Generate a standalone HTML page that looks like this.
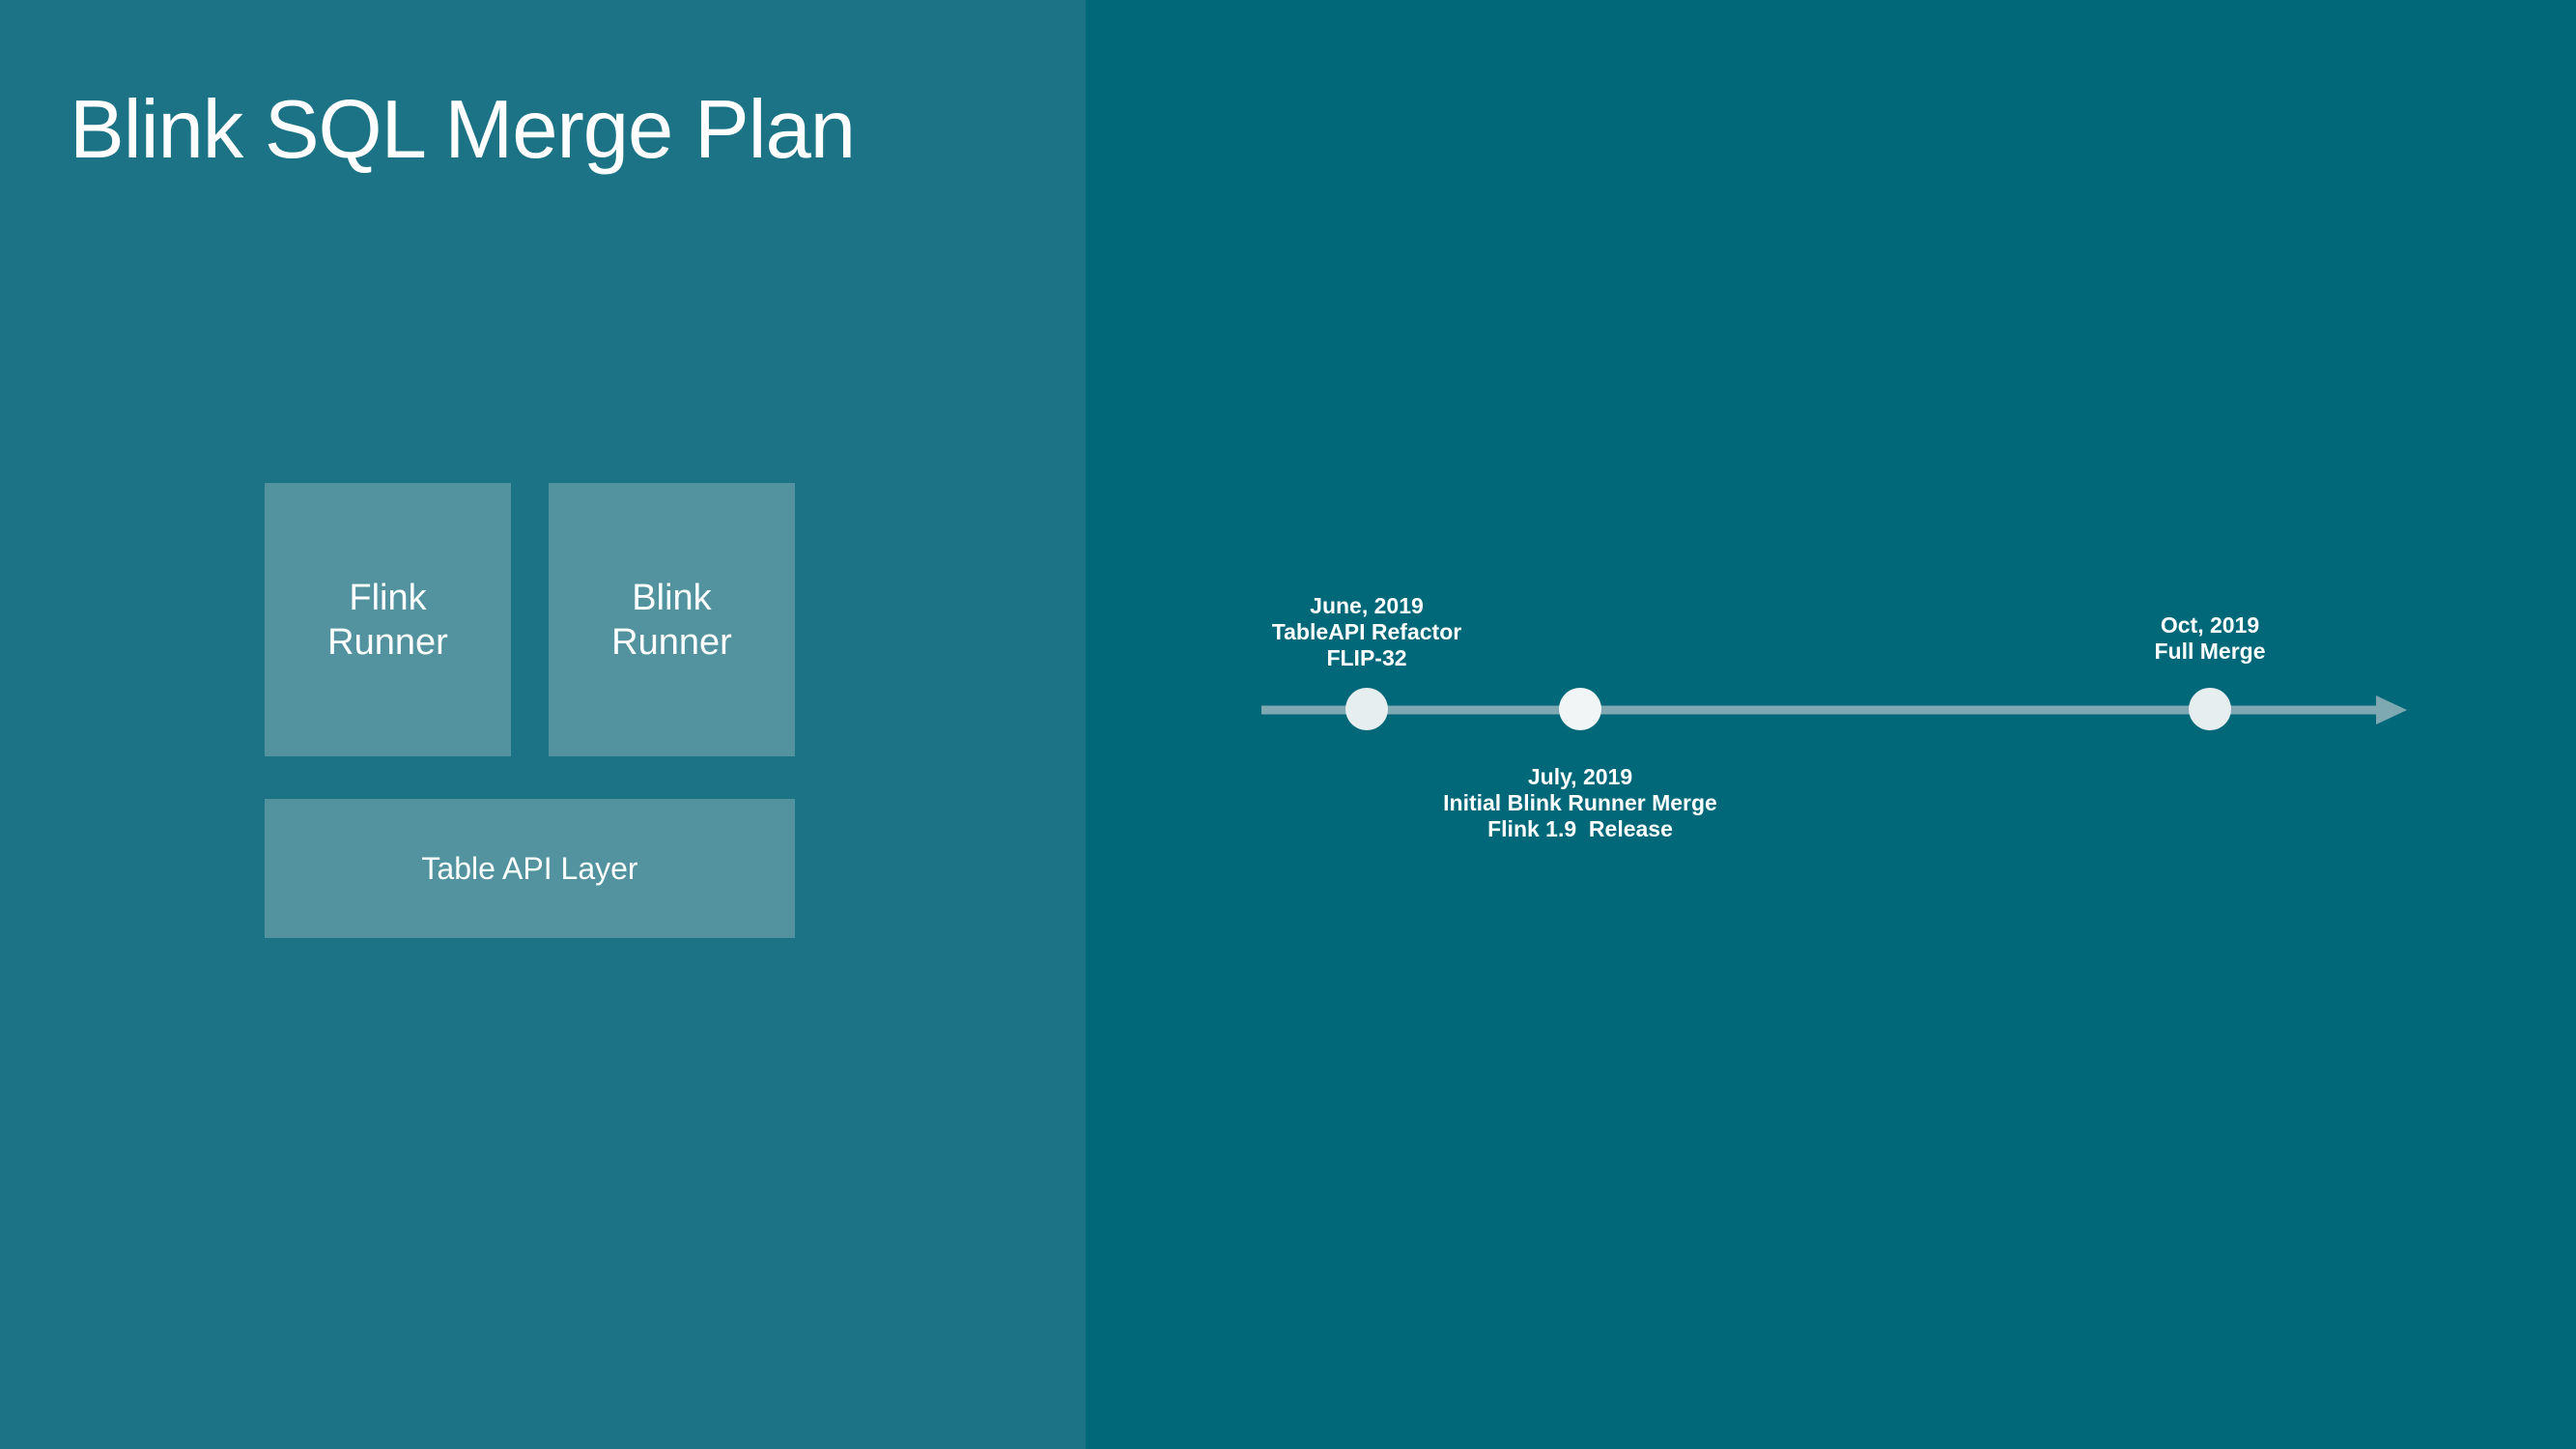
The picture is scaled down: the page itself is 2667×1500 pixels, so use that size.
<!DOCTYPE html>
<html><head><meta charset="utf-8"><style>
html,body{margin:0;padding:0}
body{width:2667px;height:1500px;position:relative;overflow:hidden;background:#006878;font-family:"Liberation Sans",sans-serif}
.left{position:absolute;left:0;top:0;width:1124px;height:1500px;background:#1b7385}
.title{position:absolute;left:72px;top:86px;font-size:85px;color:#fff;font-weight:300;letter-spacing:-1px}
.box{position:absolute;background:#53939f;color:#fff;display:flex;align-items:center;justify-content:center;text-align:center}
.lbl{position:absolute;color:#fff;font-weight:bold;font-size:23px;text-align:center;line-height:27px;transform:translateX(-50%);white-space:nowrap}
</style></head><body>
<div class="left"></div>
<div class="title">Blink SQL Merge Plan</div>
<div class="box" style="left:274px;top:500px;width:255px;height:283px;font-size:38px;line-height:46px">Flink<br>Runner</div>
<div class="box" style="left:568px;top:500px;width:255px;height:283px;font-size:38px;line-height:46px">Blink<br>Runner</div>
<div class="box" style="left:274px;top:827px;width:549px;height:144px;font-size:32px">Table API Layer</div>
<svg style="position:absolute;left:0;top:0" width="2667" height="1500">
<line x1="1306" y1="735" x2="2470" y2="735" stroke="#7fa9b2" stroke-width="9"/>
<polygon points="2460,720 2492,735 2460,750" fill="#7fa9b2"/>
<circle cx="1415" cy="734" r="22" fill="#e6eef0"/>
<circle cx="1636" cy="734" r="22" fill="#f2f5f6"/>
<circle cx="2288" cy="734" r="22" fill="#e6eef0"/>
</svg>
<div class="lbl" style="left:1415px;top:614px">June, 2019<br>TableAPI Refactor<br>FLIP-32</div>
<div class="lbl" style="left:1636px;top:791px">July, 2019<br>Initial Blink Runner Merge<br>Flink 1.9&nbsp; Release</div>
<div class="lbl" style="left:2288px;top:634px">Oct, 2019<br>Full Merge</div>
</body></html>
